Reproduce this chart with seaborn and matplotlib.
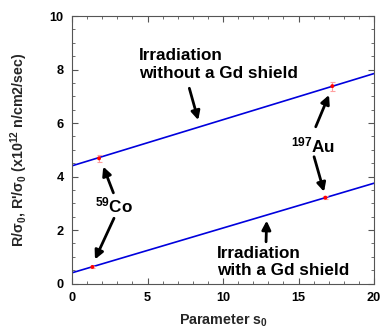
import matplotlib
matplotlib.use("Agg")
import matplotlib.pyplot as plt
import seaborn as sns
import pandas as pd

# Fitted reaction-rate lines R/sigma0 vs s0 (end points)
s0_range = [0, 20]
rate_without_gd = [4.4, 7.85]
rate_with_gd = [0.4, 3.75]

# Measured points: 59Co and 197Au, without / with the Gd shield
point_labels = ["Co-59 bare", "Au-197 bare", "Co-59 Gd", "Au-197 Gd"]
point_s0 = [1.79, 17.24, 1.35, 16.78]
point_rate = [4.68, 7.38, 0.62, 3.21]
point_err = [0.12, 0.17, 0.04, 0.05]

sns.set_theme(style="ticks")
plt.rcParams["font.family"] = ["Liberation Sans", "DejaVu Sans"]
plt.rcParams["font.weight"] = "bold"
plt.rcParams["mathtext.fontset"] = "custom"
plt.rcParams["mathtext.rm"] = "Liberation Sans:bold"
plt.rcParams["mathtext.bf"] = "Liberation Sans:bold"
plt.rcParams["mathtext.it"] = "Liberation Sans:bold"
plt.rcParams["mathtext.default"] = "bf"

fig = plt.figure(figsize=(3.82, 3.31), dpi=100)
ax = fig.add_axes([0.1885, 0.1435, 0.7906, 0.808])

lines = pd.DataFrame({
    "s0": s0_range * 2,
    "rate": rate_without_gd + rate_with_gd,
    "case": ["without"] * 2 + ["with"] * 2,
})
sns.lineplot(data=lines, x="s0", y="rate", units="case", estimator=None,
             color="#0000dd", lw=1.2, ax=ax, legend=False)

ax.errorbar(point_s0, point_rate, yerr=point_err, fmt="none",
            ecolor="#ffa0a0", elinewidth=0.8, capsize=1.8, capthick=0.8, zorder=3)
sns.scatterplot(x=point_s0, y=point_rate, color="#ff0000", s=8,
                edgecolor="none", ax=ax, zorder=4)

ax.set_xlim(0, 20)
ax.set_ylim(0, 10)
ax.set_xticks([0, 5, 10, 15, 20])
ax.set_yticks([0, 2, 4, 6, 8, 10])
ax.set_xticks(range(0, 21), minor=True)
ax.set_yticks([i * 0.5 for i in range(21)], minor=True)
ax.tick_params(which="both", direction="in", top=True, right=True,
               colors="#555555", labelcolor="black", labelsize=9.2)
ax.tick_params(which="major", length=4, width=0.8, pad=6)
ax.tick_params(which="minor", length=2, width=0.6)
for lab in ax.get_xticklabels() + ax.get_yticklabels():
    lab.set_fontweight("bold")
for sp in ax.spines.values():
    sp.set_color("#555555")
    sp.set_linewidth(0.8)

ax.set_xlabel("Parameter s$_0$", fontsize=10.3, fontweight="bold", labelpad=6)
ax.set_ylabel("R/σ$_0$, R'/σ$_0$ (x10$^{12}$ n/cm2/sec)", fontsize=10.3,
              fontweight="bold", labelpad=14)

txt = dict(fontsize=12.3, fontweight="bold", color="black")
ax.text(4.44, 8.17, "Irradiation\nwithout a Gd shield", ha="left", va="center",
        linespacing=1.25, **txt)
ax.text(9.58, 0.815, "Irradiation\nwith a Gd shield", ha="left", va="center",
        linespacing=1.15, **txt)
ax.text(1.55, 2.93, "$^{59}$Co", ha="left", va="center", **txt)
ax.text(14.5, 5.18, "$^{197}$Au", ha="left", va="center", **txt)

arrow = dict(arrowstyle="-|>", color="black", lw=2.0, mutation_scale=13,
             shrinkA=0, shrinkB=0)
for tail, head in [((7.77, 7.30), (8.36, 6.11)),
                   ((12.85, 1.56), (12.89, 2.35)),
                   ((2.74, 3.39), (2.07, 4.37)),
                   ((2.78, 2.44), (1.52, 0.90)),
                   ((16.14, 5.86), (17.02, 7.05)),
                   ((16.03, 4.74), (16.69, 3.43))]:
    ax.annotate("", xy=head, xytext=tail, arrowprops=arrow)

fig.savefig("out.png", dpi=100)
